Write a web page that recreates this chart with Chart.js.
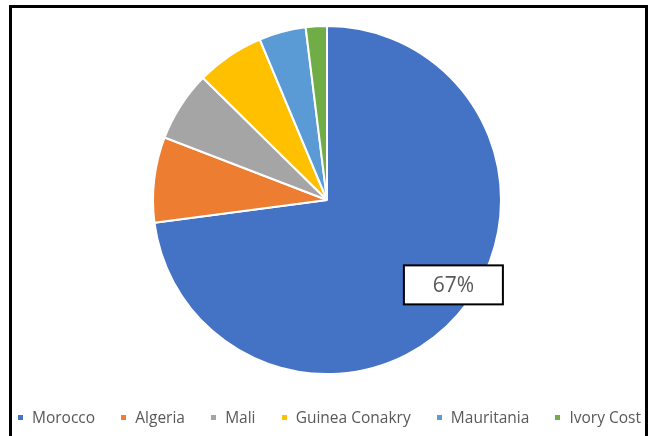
<!DOCTYPE html>
<html lang="en">
<head>
<title>Pie Chart</title>
<meta charset="UTF-8">
<script src="https://cdn.jsdelivr.net/npm/chart.js"></script>
<style>
body {margin: 0; background: #fff; font-family: "Open Sans", sans-serif;}
#frame {position: absolute; left: 9px; top: 5px; width: 633px; height: 460px; border: 3px solid #000;}
#chartBox {position: absolute; left: 0; top: 0; width: 653px; height: 436px;}
#legend {position: absolute; left: 18px; right: 12px; top: 407px; height: 20px; display: flex; justify-content: space-between; align-items: center; font-size: 15.5px; color: #595959;}
#legend span.item {display: flex; align-items: center; white-space: nowrap;}
#legend span.box {display: inline-block; width: 5px; height: 5px; margin-right: 9px;}
</style>
</head>
<body>

<div id="frame"></div>
<div id="chartBox">
  <canvas id="pieChart"></canvas>
</div>
<div id="legend"></div>

<script>
const countries = ['Morocco', 'Algeria', 'Mali', 'Guinea Conakry', 'Mauritania', 'Ivory Cost'];
const shares = [67, 7.3, 6, 5.8, 4, 1.8];
const colors = ['#4472C4', '#ED7D31', '#A5A5A5', '#FFC000', '#5B9BD5', '#70AD47'];

// boxed value label on the first slice
const labelBox = {
  id: 'labelBox',
  afterDatasetsDraw(chart) {
    const arc = chart.getDatasetMeta(0).data[0];
    const p = arc.getProps(['x', 'y', 'startAngle', 'endAngle', 'outerRadius'], true);
    const angle = p.startAngle + 0.472 * (p.endAngle - p.startAngle);
    const cx = p.x + Math.cos(angle) * p.outerRadius * 0.875;
    const cy = p.y + Math.sin(angle) * p.outerRadius * 0.875;
    const w = 99, h = 39;
    const ctx = chart.ctx;
    ctx.save();
    ctx.fillStyle = '#fff';
    ctx.fillRect(cx - w / 2, cy - h / 2, w, h);
    ctx.strokeStyle = '#000';
    ctx.lineWidth = 2;
    ctx.strokeRect(cx - w / 2, cy - h / 2, w, h);
    ctx.fillStyle = '#595959';
    ctx.font = '21px "Open Sans"';
    ctx.textAlign = 'center';
    ctx.textBaseline = 'middle';
    ctx.fillText(shares[0] + '%', cx, cy + 1);
    ctx.restore();
  }
};

const chart = new Chart(document.getElementById('pieChart'), {
  type: 'pie',
  data: {
    labels: countries,
    datasets: [{
      data: shares,
      backgroundColor: colors,
      borderColor: '#fff',
      borderWidth: 2
    }]
  },
  options: {
    responsive: true,
    maintainAspectRatio: false,
    animation: false,
    layout: {padding: {top: 25, bottom: 61, left: 100, right: 99}},
    plugins: {
      legend: {display: false},
      tooltip: {enabled: false}
    }
  },
  plugins: [labelBox]
});

// legend row under the pie
var legendEl = document.getElementById('legend');
countries.forEach(function (name, i) {
  var item = document.createElement('span');
  item.className = 'item';
  item.innerHTML = '<span class="box" style="background:' + colors[i] + '"></span>' + name;
  legendEl.appendChild(item);
});
</script>

</body>
</html>
